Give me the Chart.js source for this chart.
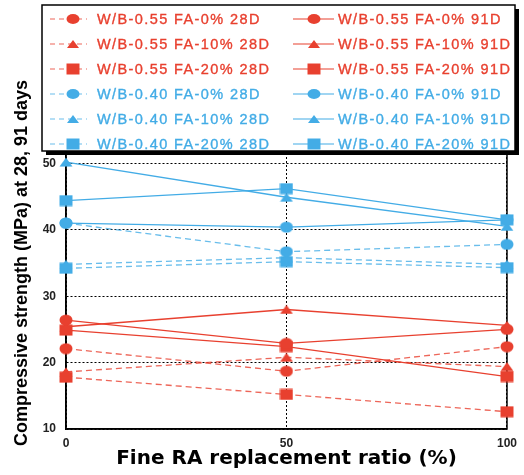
<!DOCTYPE html>
<html>
<head>
<meta charset="utf-8">
<title>Compressive strength vs fine RA ratio</title>
<script src="https://cdn.jsdelivr.net/npm/chart.js@4.4.0/dist/chart.umd.min.js"></script>
<style>
  html, body { margin: 0; padding: 0; background: #fff; }
  #wrap { width: 524px; height: 475px; }
</style>
</head>
<body>
<div id="wrap"><canvas id="chart" width="524" height="475"></canvas></div>
<script>
// fine RA replacement ratio (%) and y tick values
const ratios = [0, 50, 100];
const yTicks = [10, 20, 30, 40, 50, 60];

// W/B 0.55 (MPa)
const wb55fa0d28 = [22.1, 18.7, 22.4];
const wb55fa10d28 = [18.6, 20.8, 19.4];
const wb55fa20d28 = [17.8, 15.2, 12.6];
const wb55fa0d91 = [26.4, 22.9, 25.0];
const wb55fa10d91 = [25.4, 28.0, 25.6];
const wb55fa20d91 = [24.9, 22.4, 17.9];

// W/B 0.40 (MPa)
const wb40fa0d28 = [41.0, 36.7, 37.8];
const wb40fa10d28 = [34.8, 35.8, 34.8];
const wb40fa20d28 = [34.2, 35.2, 34.3];
const wb40fa0d91 = [41.0, 40.4, 41.5];
const wb40fa10d91 = [50.2, 44.9, 40.5];
const wb40fa20d91 = [44.4, 46.2, 41.5];

const labels = [
    "W/B-0.55 FA-0% 28D", "W/B-0.55 FA-10% 28D", "W/B-0.55 FA-20% 28D",
    "W/B-0.40 FA-0% 28D", "W/B-0.40 FA-10% 28D", "W/B-0.40 FA-20% 28D",
    "W/B-0.55 FA-0% 91D", "W/B-0.55 FA-10% 91D", "W/B-0.55 FA-20% 91D",
    "W/B-0.40 FA-0% 91D", "W/B-0.40 FA-10% 91D", "W/B-0.40 FA-20% 91D"
];
const series = [
    wb55fa0d28, wb55fa10d28, wb55fa20d28, wb40fa0d28, wb40fa10d28, wb40fa20d28,
    wb55fa0d91, wb55fa10d91, wb55fa20d91, wb40fa0d91, wb40fa10d91, wb40fa20d91
];
const shapes = ["circle", "triangle", "rect"];

const RED = "#e8402f";
const BLUE = "#43ace6";

// marker shapes (slightly wider than tall, like the original)
function drawMarker(ctx, shape, x, y, w, h) {
    ctx.beginPath();
    if (shape === "circle") {
        ctx.ellipse(x, y, w / 2, h / 2, 0, 0, Math.PI * 2);
    } else if (shape === "triangle") {
        ctx.moveTo(x, y - h / 2);
        ctx.lineTo(x + w / 2, y + h / 2);
        ctx.lineTo(x - w / 2, y + h / 2);
        ctx.closePath();
    } else {
        ctx.rect(x - w / 2, y - h / 2, w, h);
    }
    ctx.fill();
}

function markerCanvas(shape, color) {
    const size = { circle: [14, 12], triangle: [14, 10], rect: [14, 12] }[shape];
    const c = document.createElement("canvas");
    c.width = size[0];
    c.height = size[1];
    const g = c.getContext("2d");
    g.fillStyle = color;
    drawMarker(g, shape, size[0] / 2, size[1] / 2, size[0] - 1, size[1] - 1);
    return c;
}

const datasets = series.map((values, i) => {
    const is28 = i < 6;
    const color = (i % 6) < 3 ? RED : BLUE;
    const shape = shapes[i % 3];
    return {
        label: labels[i],
        data: values.map((v, k) => ({ x: ratios[k], y: v })),
        borderColor: is28 ? color + "cc" : color,
        backgroundColor: color,
        borderWidth: 1.3,
        borderDash: is28 ? [6, 4] : [],
        pointStyle: markerCanvas(shape, color),
        markerShape: shape,
        markerColor: color,
        pointRadius: 6,
        tension: 0,
        clip: false
    };
});

// frame on the right edge (left/bottom come from the axes)
const frame = {
    id: "frame",
    beforeDatasetsDraw(chart) {
        const { ctx, chartArea: a } = chart;
        ctx.save();
        ctx.strokeStyle = "#000";
        ctx.lineWidth = 1.5;
        ctx.strokeRect(a.left, a.top, a.right - a.left, a.bottom - a.top);
        ctx.restore();
    }
};

// boxed legend, two columns (28D | 91D)
const legendBox = {
    id: "legendBox",
    afterDraw(chart) {
        const ctx = chart.ctx;
        const x = 42, y = 5, w = 473, h = 146;
        ctx.save();
        ctx.fillStyle = "#000";
        ctx.fillRect(x + 4, y + 4, w, h);
        ctx.fillStyle = "#fff";
        ctx.fillRect(x, y, w, h);
        ctx.strokeStyle = "#000";
        ctx.lineWidth = 1.5;
        ctx.strokeRect(x, y, w, h);

        ctx.font = "14.5px 'Liberation Sans', Arial, sans-serif";
        ctx.textBaseline = "middle";
        if ("letterSpacing" in ctx) ctx.letterSpacing = "1.4px";

        chart.data.datasets.forEach((ds, i) => {
            const col = i < 6 ? 0 : 1;
            const cy = 19 + (i % 6) * 25;
            const x1 = col ? 293 : 50;
            const x2 = col ? 334 : 87;
            const mx = col ? 314 : 73;
            const tx = col ? 338 : 97;

            ctx.strokeStyle = ds.borderColor;
            ctx.lineWidth = 1.2;
            ctx.setLineDash(col ? [] : [5, 4]);
            ctx.beginPath();
            ctx.moveTo(x1, cy);
            ctx.lineTo(x2, cy);
            ctx.stroke();
            ctx.setLineDash([]);

            ctx.fillStyle = ds.markerColor;
            if (ds.markerShape === "circle") drawMarker(ctx, "circle", mx, cy, 13, 10);
            else if (ds.markerShape === "triangle") drawMarker(ctx, "triangle", mx, cy, 12, 8);
            else drawMarker(ctx, "rect", mx, cy, 13, 11);

            // light stroke to match the heavier look of the original lettering
            ctx.strokeStyle = ds.markerColor;
            ctx.lineWidth = 0.35;
            ctx.fillText(ds.label, tx, cy + 1);
            ctx.strokeText(ds.label, tx, cy + 1);
        });
        ctx.restore();
    }
};

new Chart(document.getElementById("chart"), {
    type: "line",
    data: { datasets },
    options: {
        responsive: false,
        animation: false,
        layout: { padding: { top: 97, right: 11, left: 0, bottom: 0 } },
        plugins: {
            legend: { display: false },
            tooltip: { enabled: false }
        },
        scales: {
            x: {
                type: "linear",
                min: 0,
                max: 100,
                afterBuildTicks: (s) => { s.ticks = ratios.map(v => ({ value: v })); },
                afterFit: (s) => { s.height = 46; },
                grid: { color: "#000", lineWidth: 1, drawTicks: false },
                border: { display: true, color: "#000", width: 1.5, dash: [2, 2] },
                ticks: {
                    padding: 7,
                    color: "#222",
                    font: { family: "'Liberation Sans', Arial, sans-serif", size: 12, weight: "bold" }
                },
                title: {
                    display: true,
                    text: "Fine RA replacement ratio (%)",
                    color: "#000",
                    padding: { top: 0, bottom: 4 },
                    font: { family: "'DejaVu Sans', sans-serif", size: 20, weight: "bold" }
                }
            },
            y: {
                min: 10,
                max: 60,
                afterBuildTicks: (s) => { s.ticks = yTicks.map(v => ({ value: v })); },
                afterFit: (s) => { s.width = 66; },
                grid: { color: "#000", lineWidth: 1, drawTicks: false },
                border: { display: true, color: "#000", width: 1.5, dash: [2, 2] },
                ticks: {
                    padding: 10,
                    color: "#222",
                    font: { family: "'Liberation Sans', Arial, sans-serif", size: 12, weight: "bold" }
                },
                title: {
                    display: true,
                    text: "Compressive strength (MPa) at 28, 91 days",
                    color: "#000",
                    padding: { top: 11, bottom: 0 },
                    font: { family: "'Liberation Sans', Arial, sans-serif", size: 18, weight: "bold" }
                }
            }
        }
    },
    plugins: [frame, legendBox]
});
</script>
</body>
</html>
